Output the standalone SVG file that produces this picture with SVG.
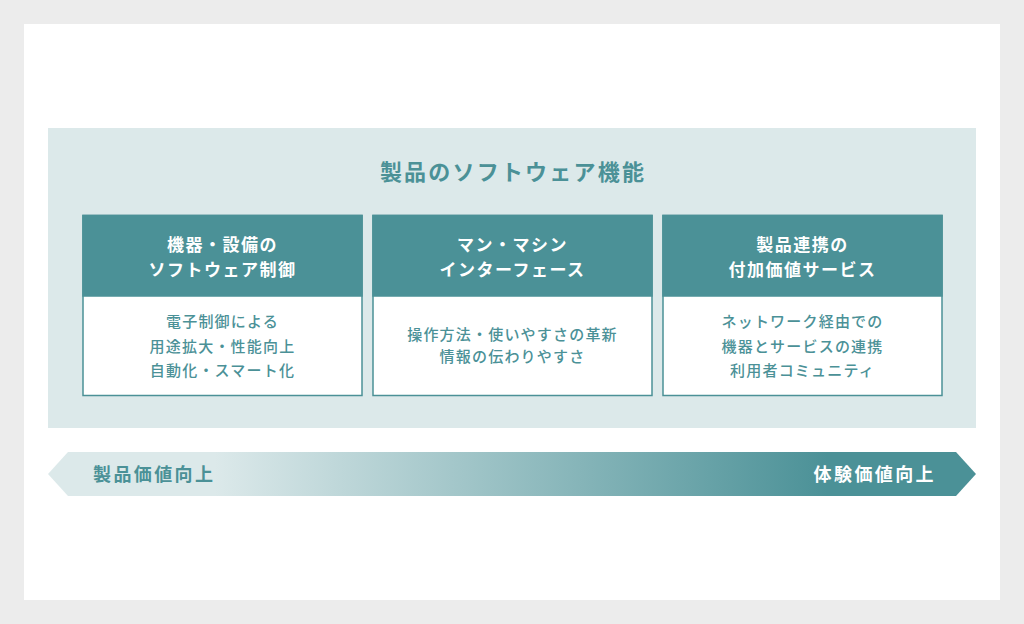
<svg xmlns="http://www.w3.org/2000/svg" width="1024" height="624" viewBox="0 0 1024 624">
<defs>
<linearGradient id="grad" gradientUnits="userSpaceOnUse" x1="48" y1="0" x2="976" y2="0">
<stop offset="0.18" stop-color="#dce9ea"/>
<stop offset="0.84" stop-color="#4b9197"/>
</linearGradient>
<style>
text{font-family:"Noto Sans CJK JP","Noto Sans",sans-serif;text-anchor:middle}
.title{font-size:22px;font-weight:700;fill:#4b9197;letter-spacing:2.2px}
.hd{fill:#4b9197}
.body{fill:#ffffff;stroke:#4b9197;stroke-width:1.5}
.ht{font-size:17px;font-weight:700;fill:#ffffff;letter-spacing:1.5px}
.bt{font-size:15px;font-weight:500;fill:#4b9197;letter-spacing:1.2px}
.at{font-size:18px;font-weight:700;letter-spacing:2.4px}
</style>
</defs>
<rect x="0" y="0" width="1024" height="624" fill="#ececec"/>
<rect x="24" y="24" width="976" height="576" fill="#ffffff"/>
<g id="panel">
<rect x="48" y="128" width="928" height="300" fill="#dce9ea"/>
<text class="title" x="513" y="180">製品のソフトウェア機能</text>
</g>
<g id="box1">
<rect class="body" x="83" y="215.5" width="279" height="180"/>
<rect class="hd" x="82.25" y="214.75" width="280.5" height="82"/>
<text class="ht" x="222.5" y="251">機器・設備の</text>
<text class="ht" x="222.5" y="276">ソフトウェア制御</text>
<text class="bt" x="222.5" y="327">電子制御による</text>
<text class="bt" x="222.5" y="352">用途拡大・性能向上</text>
<text class="bt" x="222.5" y="376">自動化・スマート化</text>
</g>
<g id="box2">
<rect class="body" x="373" y="215.5" width="279" height="180"/>
<rect class="hd" x="372.25" y="214.75" width="280.5" height="82"/>
<text class="ht" x="512.5" y="251">マン・マシン</text>
<text class="ht" x="512.5" y="276">インターフェース</text>
<text class="bt" x="512.5" y="340">操作方法・使いやすさの革新</text>
<text class="bt" x="512.5" y="362">情報の伝わりやすさ</text>
</g>
<g id="box3">
<rect class="body" x="663" y="215.5" width="279" height="180"/>
<rect class="hd" x="662.25" y="214.75" width="280.5" height="82"/>
<text class="ht" x="802.5" y="251">製品連携の</text>
<text class="ht" x="802.5" y="276">付加価値サービス</text>
<text class="bt" x="802.5" y="327">ネットワーク経由での</text>
<text class="bt" x="802.5" y="352">機器とサービスの連携</text>
<text class="bt" x="802.5" y="376">利用者コミュニティ</text>
</g>
<g id="connectors">
<polygon points="68,452 956,452 976,474 956,496 68,496 48,474" fill="url(#grad)"/>
<text class="at" x="93" y="480.5" style="text-anchor:start" fill="#4b9197">製品価値向上</text>
<text class="at" x="936" y="480.5" style="text-anchor:end" fill="#ffffff">体験価値向上</text>
</g>
</svg>
